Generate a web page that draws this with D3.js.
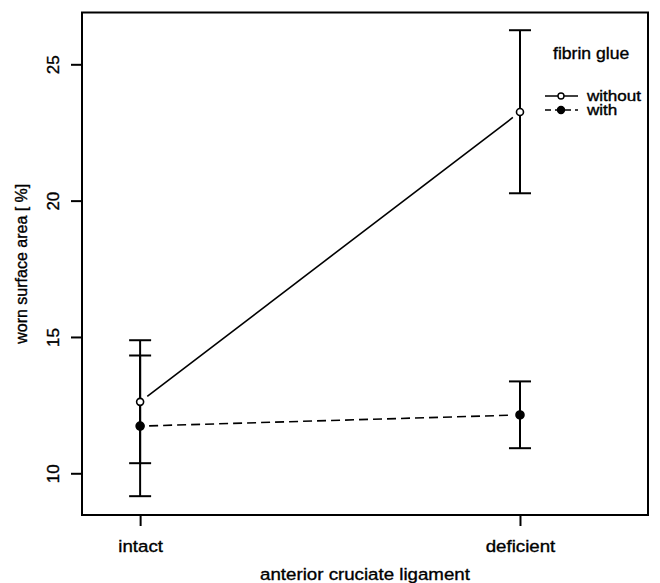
<!DOCTYPE html>
<html>
<head>
<meta charset="utf-8">
<script src="https://cdn.jsdelivr.net/npm/d3@7"></script>
<style>
  body { margin: 0; background: #fff; }
  svg { display: block; }
  text { font-family: "Liberation Sans", Arial, sans-serif; fill: #000; stroke: #000; stroke-width: 0.35px; }
</style>
</head>
<body>
<svg id="chart" width="660" height="583"></svg>
<script>
// data
const categories = ['intact', 'deficient'];
const groups = ['without', 'with'];
const meansWithout = [12.62, 23.25];
const meansWith = [11.73, 12.14];
const lowerWithout = [10.37, 20.27];
const upperWithout = [14.88, 26.25];
const lowerWith = [9.16, 10.92];
const upperWith = [14.32, 13.37];
const yTicks = [10, 15, 20, 25];
const legendTitle = 'fibrin glue';
const xTitle = 'anterior cruciate ligament';
const yTitle = 'worn surface area [ %]';

const svg = d3.select('#chart');
const box = { left: 82, right: 648, top: 12.5, bottom: 515 };
const stretch = 1.1; // horizontal text looks a little wider than normal

const x = d3.scaleLinear().domain([0.847, 2.337]).range([box.left, box.right]);
const y = d3.scaleLinear().domain([8.47, 26.9]).range([box.bottom, box.top]);

const series = [
  { key: groups[0], means: meansWithout, lo: lowerWithout, hi: upperWithout, dash: null, filled: false },
  { key: groups[1], means: meansWith, lo: lowerWith, hi: upperWith, dash: '9,5', filled: true },
];

// axes
const yAxis = svg.append('g')
  .attr('transform', `translate(${box.left},0)`)
  .call(d3.axisLeft(y).tickValues(yTicks).tickSize(11).tickPadding(0).tickFormat(d3.format('d')));
yAxis.select('.domain').remove();
yAxis.selectAll('line').attr('stroke-width', 2);
yAxis.selectAll('text')
  .attr('x', null)
  .attr('transform', 'translate(-29,0) rotate(-90)')
  .attr('dy', '0.35em')
  .style('text-anchor', 'middle')
  .style('font-size', '17px')
  .style('font-family', '"Liberation Sans", Arial, sans-serif');

const xAxis = svg.append('g')
  .attr('transform', `translate(0,${box.bottom})`)
  .call(d3.axisBottom(x).tickValues([1, 2]).tickSize(11).tickPadding(14)
    .tickFormat(d => categories[d - 1]));
xAxis.select('.domain').remove();
xAxis.selectAll('line').attr('stroke-width', 2);
xAxis.selectAll('text')
  .attr('transform', `scale(${stretch},1)`)
  .style('font-size', '17px')
  .style('font-family', '"Liberation Sans", Arial, sans-serif');

// plot box
svg.append('rect')
  .attr('x', box.left).attr('y', box.top)
  .attr('width', box.right - box.left).attr('height', box.bottom - box.top)
  .attr('fill', 'none').attr('stroke', '#000').attr('stroke-width', 2);

// error bars
const capHalf = 11;
series.forEach((s) => {
  const g = svg.append('g').attr('class', `bars ${s.key}`);
  categories.forEach((c, i) => {
    const cx = x(i + 1);
    g.append('line')
      .attr('x1', cx).attr('x2', cx)
      .attr('y1', y(s.lo[i])).attr('y2', y(s.hi[i]))
      .attr('stroke', '#000').attr('stroke-width', 2);
    [s.lo[i], s.hi[i]].forEach((v) => {
      g.append('line')
        .attr('x1', cx - capHalf).attr('x2', cx + capHalf)
        .attr('y1', y(v)).attr('y2', y(v))
        .attr('stroke', '#000').attr('stroke-width', 2);
    });
  });
});

// lines with gaps around points (like type = "b")
const gap = 9;
series.forEach((s) => {
  const x1 = x(1), y1 = y(s.means[0]);
  const x2 = x(2), y2 = y(s.means[1]);
  const len = Math.hypot(x2 - x1, y2 - y1);
  const ux = (x2 - x1) / len, uy = (y2 - y1) / len;
  svg.append('line')
    .attr('x1', x1 + ux * gap).attr('y1', y1 + uy * gap)
    .attr('x2', x2 - ux * gap).attr('y2', y2 - uy * gap)
    .attr('stroke', '#000').attr('stroke-width', 1.6)
    .attr('stroke-dasharray', s.dash);
});

// points
series.forEach((s) => {
  svg.append('g').selectAll('circle')
    .data(s.means)
    .enter()
    .append('circle')
    .attr('cx', (d, i) => x(i + 1))
    .attr('cy', d => y(d))
    .attr('r', s.filled ? 4 : 3.5)
    .attr('fill', s.filled ? '#000' : '#fff')
    .attr('stroke', '#000')
    .attr('stroke-width', 1.6);
});

// legend
const legend = svg.append('g').attr('class', 'legend');
legend.append('text')
  .attr('transform', `translate(553,53) scale(${stretch},1)`)
  .attr('dy', '0.35em')
  .style('font-size', '16px')
  .text(legendTitle);
const rowY = [96, 110];
series.forEach((s, i) => {
  legend.append('line')
    .attr('x1', 545).attr('x2', 578)
    .attr('y1', rowY[i]).attr('y2', rowY[i])
    .attr('stroke', '#000').attr('stroke-width', 1.6)
    .attr('stroke-dasharray', s.dash ? '6,4' : null);
  legend.append('circle')
    .attr('cx', 561).attr('cy', rowY[i])
    .attr('r', s.filled ? 3.5 : 3)
    .attr('fill', s.filled ? '#000' : '#fff')
    .attr('stroke', '#000').attr('stroke-width', 1.4);
  legend.append('text')
    .attr('transform', `translate(587,${rowY[i]}) scale(1.22,1)`)
    .attr('dy', '0.35em')
    .style('font-size', '14px')
    .text(s.key);
});

// axis titles
svg.append('text')
  .attr('transform', `translate(${(box.left + box.right) / 2},580) scale(${stretch},1)`)
  .style('text-anchor', 'middle')
  .style('font-size', '17px')
  .text(xTitle);
svg.append('text')
  .attr('transform', `translate(21,${(box.top + box.bottom) / 2}) rotate(-90)`)
  .attr('dy', '0.35em')
  .style('text-anchor', 'middle')
  .style('font-size', '16px')
  .text(yTitle);
</script>
</body>
</html>
